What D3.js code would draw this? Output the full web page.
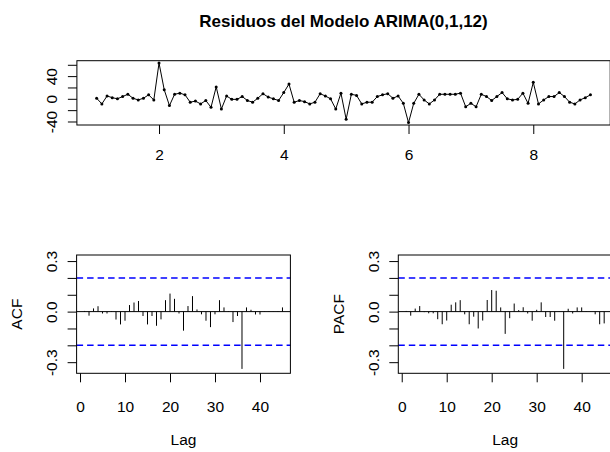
<!DOCTYPE html>
<html>
<head>
<meta charset="utf-8">
<script src="https://cdn.jsdelivr.net/npm/d3@7"></script>
<style>
  body { margin: 0; background: #fff; }
  svg { display: block; font-family: "Liberation Sans", Arial, sans-serif; }
</style>
</head>
<body>
<svg id="chart" width="610" height="452"></svg>
<script>
// --- datos ---
const titulo = "Residuos del Modelo ARIMA(0,1,12)";
const inicio = 1;
const frecuencia = 12;
const residuos = [
  1, -9, 5, 2, 0, 4, 8, 1, -2, 1, 7, -2,
  63, 16, -12, 8, 10, 7, -6, -4, -9, -3, -15, 21,
  -18, 5, -1, -1, 4, -3, -6, 1, 9, 3, 0, -3,
  11, 26, -6, -3, -5, -9, -6, 9, 5, 0, -18, 10,
  -36, 8, 6, -9, -6, -6, 4, 7, 9, 1, 5, -8,
  -42, -8, 8, -2, -9, -2, 8, 8, 8, 8, 10, -14,
  -8, -14, 8, 4, -3, 4, 11, 0, -2, -1, 10, -8,
  29, -9, -2, 4, 4, 11, 4, -6, -9, -2, 2, 7
];
const lags = d3.range(1, 46);
const acfValores = [
  0.004, -0.024, 0.019, 0.032, -0.011, -0.011, 0.003, -0.047, -0.076, -0.054,
  0.039, 0.054, 0.063, -0.026, -0.076, -0.026, -0.084, -0.046, 0.068, 0.107,
  0.076, -0.011, -0.113, 0.033, 0.092, 0.013, -0.016, -0.054, -0.092, -0.016,
  0.068, 0.025, 0.003, -0.062, -0.026, -0.34, 0.025, 0.011, -0.017, -0.017,
  0.002, -0.002, 0.001, -0.002, 0.025
];
const pacfValores = [
  0.004, -0.024, 0.018, 0.033, -0.003, -0.01, -0.01, -0.045, -0.075, -0.053,
  0.041, 0.055, 0.068, -0.016, -0.075, -0.03, -0.1, -0.053, 0.069, 0.128,
  0.124, 0.025, -0.132, -0.039, 0.048, 0.009, 0.026, -0.011, -0.054, 0.011,
  0.055, -0.032, -0.032, -0.054, 0.002, -0.34, 0.017, -0.011, 0.025, 0.025,
  0.002, 0.001, -0.016, -0.075, -0.07
];
const limCorr = [-0.34, 0.31];
const ticksTiempo = [2, 4, 6, 8];
const ticksResid = [60, 40, 20, 0, -20, -40];
const etiquetasResid = [40, 0, -40];
const ticksLag = [0, 10, 20, 30, 40];
const ticksCorr = [0.3, 0.2, 0.1, 0, -0.1, -0.2, -0.3];
const etiquetasCorr = [0.3, 0, -0.3];

// --- utilidades ---
const banda = 1.96 / Math.sqrt(residuos.length);
const pad = ([a, b]) => [a - 0.04 * (b - a), b + 0.04 * (b - a)]; // como R (xaxs="r")
const tiempos = residuos.map((_, i) => inicio + i / frecuencia);
// R escribe el signo menos con guion normal
const fmtEntero = (d) => String(d);
const fmtDecimal = (d) => d.toFixed(1);

const svg = d3.select("#chart");
const TICK = 9;

function caja(g, x, y) {
  g.append("rect")
    .attr("x", x.range()[0]).attr("y", y.range()[1])
    .attr("width", x.range()[1] - x.range()[0])
    .attr("height", y.range()[0] - y.range()[1])
    .attr("fill", "none").attr("stroke", "#000").attr("stroke-width", 1);
}

function ejeX(g, x, y, ticks, padding) {
  const ax = g.append("g")
    .attr("transform", `translate(0,${y.range()[0]})`)
    .call(d3.axisBottom(x).tickValues(ticks).tickSize(TICK).tickPadding(padding).tickFormat(fmtEntero));
  ax.select(".domain").remove();
  ax.selectAll("line").attr("stroke", "#000");
  ax.selectAll("text").attr("font-size", 15.5).attr("fill", "#000");
}

function ejeY(g, x, y, ticks, etiquetas, fmt) {
  const ax = g.append("g")
    .attr("transform", `translate(${x.range()[0]},0)`)
    .call(d3.axisLeft(y).tickValues(ticks).tickSize(TICK).tickFormat(fmt));
  ax.select(".domain").remove();
  ax.selectAll("line").attr("stroke", "#000");
  ax.selectAll("text")
    .attr("font-size", 15.5).attr("fill", "#000")
    .attr("x", 0).attr("dy", null).attr("text-anchor", "middle")
    .attr("transform", "translate(-19.5,0) rotate(-90)");
  // R omite las etiquetas que se solaparian
  ax.selectAll(".tick")
    .filter((d) => !etiquetas.some((e) => Math.abs(e - d) < 1e-9))
    .select("text").remove();
}

// --- panel superior: residuos ---
{
  const x = d3.scaleLinear().domain(pad([tiempos[0], tiempos[tiempos.length - 1]])).range([76.9, 610.2]);
  const y = d3.scaleLinear().domain(pad(d3.extent(residuos))).range([125, 60.7]);
  const g = svg.append("g");

  g.append("path")
    .datum(residuos)
    .attr("fill", "none").attr("stroke", "#000").attr("stroke-width", 1)
    .attr("d", d3.line().x((d, i) => x(tiempos[i])).y((d) => y(d)));
  g.selectAll("circle.pt")
    .data(residuos)
    .join("circle")
    .attr("class", "pt")
    .attr("cx", (d, i) => x(tiempos[i])).attr("cy", (d) => y(d))
    .attr("r", 1.5).attr("fill", "#000");

  caja(g, x, y);
  ejeX(g, x, y, ticksTiempo, 15);
  ejeY(g, x, y, ticksResid, etiquetasResid, fmtEntero);

  svg.append("text")
    .attr("x", (x.range()[0] + x.range()[1]) / 2).attr("y", 27)
    .attr("text-anchor", "middle")
    .attr("font-size", 17).attr("font-weight", "bold")
    .text(titulo);
}

// --- paneles inferiores: ACF y PACF ---
function correlograma(valores, etiqueta, x0, x1) {
  const x = d3.scaleLinear().domain(pad([lags[0], lags[lags.length - 1]])).range([x0, x1]);
  const y = d3.scaleLinear().domain(pad(limCorr)).range([373.3, 255]);
  const g = svg.append("g");

  g.selectAll("line.ci")
    .data([banda, -banda])
    .join("line")
    .attr("class", "ci")
    .attr("x1", x0).attr("x2", x1)
    .attr("y1", (d) => y(d)).attr("y2", (d) => y(d))
    .attr("stroke", "#0000ff").attr("stroke-width", 1.5).attr("stroke-dasharray", "6.5,4");

  g.append("line")
    .attr("x1", x0).attr("x2", x1)
    .attr("y1", y(0)).attr("y2", y(0))
    .attr("stroke", "#000");

  g.selectAll("line.bar")
    .data(valores)
    .join("line")
    .attr("class", "bar")
    .attr("x1", (d, i) => x(lags[i])).attr("x2", (d, i) => x(lags[i]))
    .attr("y1", y(0)).attr("y2", (d) => y(d))
    .attr("stroke", "#000").attr("stroke-width", 1);

  caja(g, x, y);
  ejeX(g, x, y, ticksLag, 19);
  ejeY(g, x, y, ticksCorr, etiquetasCorr, fmtDecimal);

  g.append("text")
    .attr("transform", `translate(${x0 - 54.5},${(255 + 373.3) / 2}) rotate(-90)`)
    .attr("text-anchor", "middle").attr("font-size", 15.5)
    .text(etiqueta);
  g.append("text")
    .attr("x", (x0 + x1) / 2).attr("y", 445)
    .attr("text-anchor", "middle").attr("font-size", 15.5)
    .text("Lag");
}

correlograma(acfValores, "ACF", 76.6, 290.4);
correlograma(pacfValores, "PACF", 398.3, 612.1);
</script>
</body>
</html>
